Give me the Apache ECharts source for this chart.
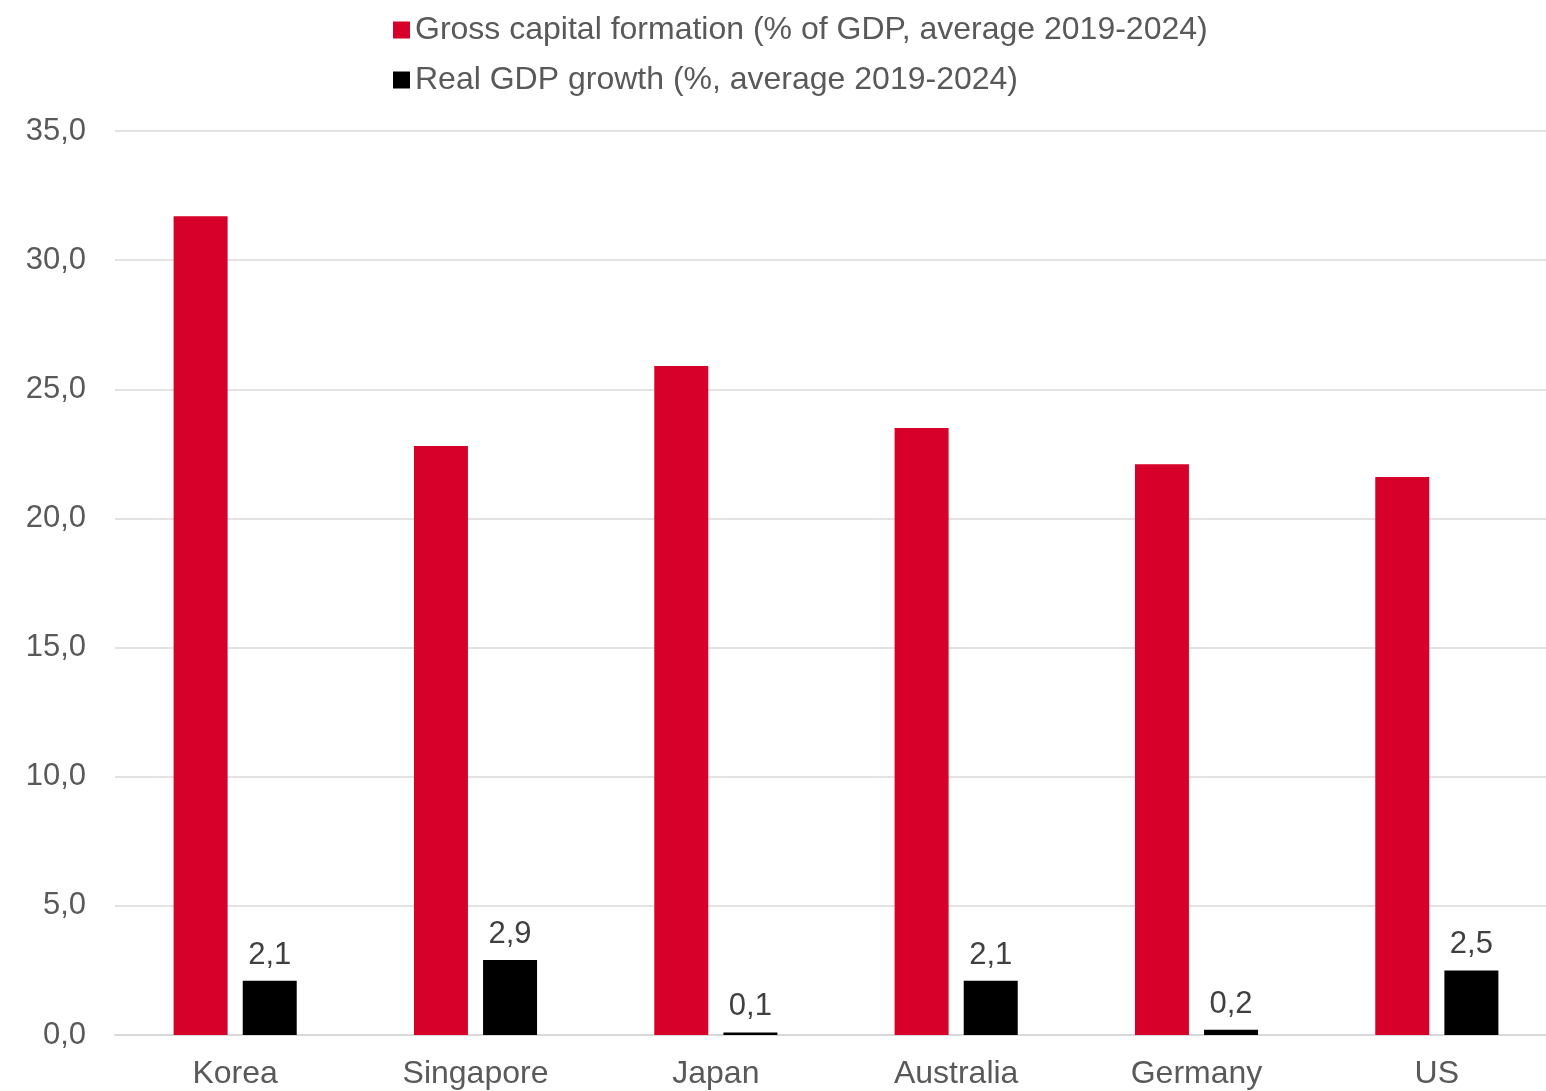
<!DOCTYPE html>
<html>
<head>
<meta charset="utf-8">
<script src="https://cdn.jsdelivr.net/npm/echarts@6/dist/echarts.min.js"></script>
<style>
  html, body { margin: 0; padding: 0; background: #fff; }
  #chart { width: 1546px; height: 1091px; }
</style>
</head>
<body>
<div id="chart"></div>
<script>
const countries = ['Korea', 'Singapore', 'Japan', 'Australia', 'Germany', 'US'];
const grossCapitalFormation = [31.7, 22.8, 25.9, 23.5, 22.1, 21.6];
const realGdpGrowth = [2.1, 2.9, 0.1, 2.1, 0.2, 2.5];
const seriesNames = [
  'Gross capital formation (% of GDP, average 2019-2024)',
  'Real GDP growth (%, average 2019-2024)'
];

const fontFamily = '"Liberation Sans", Arial, sans-serif';
const commaDecimal = v => Number(v).toFixed(1).replace('.', ',');

const chart = echarts.init(document.getElementById('chart'), null, { renderer: 'canvas' });
chart.setOption({
  animation: false,
  backgroundColor: '#ffffff',
  textStyle: { fontFamily },
  legend: {
    orient: 'vertical',
    left: 388,
    top: 7,
    itemWidth: 17,
    itemHeight: 17,
    itemGap: 14,
    icon: 'rect',
    textStyle: { color: '#595959', fontSize: 32, lineHeight: 36, fontFamily },
    data: seriesNames
  },
  // the plot runs slightly past the right edge of the canvas
  grid: {
    left: 115, width: 1442, top: 131, bottom: 56,
    containLabel: false, outerBoundsMode: 'none'
  },
  xAxis: {
    type: 'category',
    data: countries,
    axisLine: { show: true, lineStyle: { color: '#d9d9d9', width: 2 } },
    axisTick: { show: false },
    axisLabel: { color: '#595959', fontSize: 32, margin: 23, fontFamily }
  },
  yAxis: {
    type: 'value',
    min: 0,
    max: 35,
    interval: 5,
    axisLine: { show: false },
    axisTick: { show: false },
    splitLine: { lineStyle: { color: '#d9d9d9', width: 1.5 } },
    axisLabel: { color: '#595959', fontSize: 31, margin: 29, formatter: commaDecimal, fontFamily }
  },
  series: [
    {
      name: seriesNames[0],
      type: 'bar',
      data: grossCapitalFormation,
      barWidth: 54,
      barGap: '28%',
      itemStyle: { color: '#D7002B' }
    },
    {
      name: seriesNames[1],
      type: 'bar',
      data: realGdpGrowth,
      barWidth: 54,
      barGap: '28%',
      itemStyle: { color: '#000000' },
      label: {
        show: true,
        position: 'top',
        distance: 10,
        color: '#404040',
        fontSize: 31,
        fontFamily,
        formatter: p => commaDecimal(p.value)
      }
    }
  ]
});
</script>
</body>
</html>
